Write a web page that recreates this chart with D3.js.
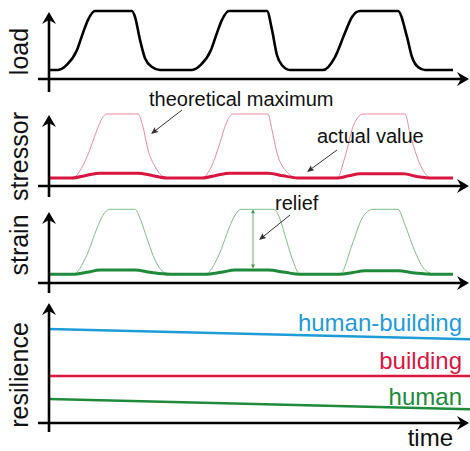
<!DOCTYPE html>
<html><head><meta charset="utf-8">
<script src="https://cdn.jsdelivr.net/npm/d3@7"></script>
<style>html,body{margin:0;padding:0;background:#fff;}svg{display:block;font-family:"Liberation Sans",Arial,sans-serif;}</style>
</head><body>
<svg id="c" width="470" height="451"></svg>
<script>
// ---- data (time units; values normalised) ----
const loadTime  = [0,9,18,28,34,39,46,83,86,91,96,103,111,143,152,162,168,173,180,218,223,228,233,241,274,286,296,303,311,349,358,363,369,376,404];
const loadValue = [0,0,.09,.34,.63,.85,1,1,.9,.51,.2,.05,0,0,.09,.34,.63,.85,1,1,.68,.25,.08,0,0,.22,.63,.9,1,1,.56,.22,.05,0,0];

const stressorMaxTime  = [0,23,38,48,53,58,89,94,99,106,118,153,163,171,177,184,219,223,228,236,249,288,296,304,314,356,361,368,383,404];
const stressorMaxValue = [0,0,.33,.75,.93,1,1,.8,.44,.18,0,0,.2,.55,.85,1,1,.75,.39,.13,0,0,.33,.8,1,1,.7,.33,0,0];
const stressorActTime  = [0,23,37,51,89,103,118,153,167,181,219,234,249,288,300,311,354,369,383,404];
const stressorActValue = [0,0,.04,.075,.075,.04,0,0,.04,.075,.075,.035,0,0,.035,.065,.065,.02,0,0];

const strainMaxTime  = [0,24,38,48,54,61,86,91,98,106,114,121,156,170,180,186,192,225,231,236,243,251,291,303,313,324,349,356,366,376,386,404];
const strainMaxValue = [0,0,.3,.71,.91,1,1,.86,.55,.22,.04,0,0,.3,.71,.91,1,1,.85,.6,.25,0,0,.45,.86,1,1,.76,.35,.07,0,0];
const strainActTime  = [0,24,38,51,86,101,121,156,172,186,219,236,251,291,303,316,349,366,386,404];
const strainActValue = [0,0,.03,.065,.065,.03,0,0,.03,.065,.065,.03,0,0,.025,.055,.055,.02,0,0];
const reliefTime = 204, reliefLow = 0.09, reliefHigh = 1;

const resTime = [0,421];
const resHumanBuilding = [7.83,6.98];
const resBuilding = [3.92,3.92];
const resHuman = [2.0,1.14];

const panelLabels = ["load","stressor","strain","resilience"];
const seriesLabels = ["human-building","building","human"];

// ---- layout ----
const svg = d3.select("#c");
const x = d3.scaleLinear().domain([0,420]).range([49,469]);
const panels = [
  {name:"load", axisY:79, tip:12, bottom:92, labelY:51.5},
  {name:"stressor", axisY:186, tip:115, bottom:197, labelY:156.5},
  {name:"strain", axisY:283, tip:212, bottom:293, labelY:245},
  {name:"resilience", axisY:423, tip:303, bottom:432, labelY:375}
];
const yLoad = d3.scaleLinear().domain([0,1]).range([70,11]);
const yStress = d3.scaleLinear().domain([0,1]).range([178,114]);
const yStrain = d3.scaleLinear().domain([0,1]).range([274.3,209.3]);
const yRes = d3.scaleLinear().domain([0,10]).range([423,303]);

function zip(t,v){return t.map((d,i)=>[d,v[i]]);}
function drawLine(data,y,color,w,curve){
  svg.append("path").datum(data)
    .attr("d", d3.line().x(d=>x(d[0])).y(d=>y(d[1])).curve(curve||d3.curveMonotoneX))
    .attr("fill","none").attr("stroke",color).attr("stroke-width",w)
    .attr("stroke-linejoin","round").attr("stroke-linecap","butt");
}
function arrowHead(tx,ty,angle,len,half,notch,color){
  const a = angle*Math.PI/180, c=Math.cos(a), s=Math.sin(a);
  const p = (dx,dy)=>[tx + dx*c - dy*s, ty + dx*s + dy*c];
  const pts = [p(0,0), p(-len,-half), p(-len+notch,0), p(-len,half)];
  svg.append("path").attr("d","M"+pts.map(q=>q.join(",")).join("L")+"Z").attr("fill",color);
}
function annArrow(x1,y1,x2,y2,color){
  const ang = Math.atan2(y2-y1,x2-x1);
  svg.append("line").attr("x1",x1).attr("y1",y1)
    .attr("x2",x2-Math.cos(ang)*4).attr("y2",y2-Math.sin(ang)*4)
    .attr("stroke",color).attr("stroke-width",1);
  arrowHead(x2,y2,ang*180/Math.PI,7,3,1,color);
}

// ---- series ----
drawLine(zip(loadTime,loadValue), yLoad, "#000", 2.6);
drawLine(zip(stressorMaxTime,stressorMaxValue), yStress, "#ea8aa0", 1);
drawLine(zip(stressorActTime,stressorActValue), yStress, "#d8163f", 3);
drawLine(zip(strainMaxTime,strainMaxValue), yStrain, "#7cbf86", 1);
drawLine(zip(strainActTime,strainActValue), yStrain, "#1e8a3a", 3);
drawLine(zip(resTime,resHumanBuilding), yRes, "#1f9bd8", 2.6, d3.curveLinear);
drawLine(zip(resTime,resBuilding), yRes, "#d8163f", 2.6, d3.curveLinear);
drawLine(zip(resTime,resHuman), yRes, "#1e8a3a", 2.6, d3.curveLinear);

// relief double arrow
{
  const rx = x(reliefTime), y1 = yStrain(reliefHigh), y2 = yStrain(reliefLow);
  svg.append("line").attr("x1",rx).attr("x2",rx).attr("y1",y1+2).attr("y2",y2-2)
    .attr("stroke","#6fb87a").attr("stroke-width",1);
  arrowHead(rx,y1,-90,4,2,0,"#3f9a4e");
  arrowHead(rx,y2,90,4,2,0,"#3f9a4e");
}

// ---- axes ----
panels.forEach(p=>{
  svg.append("line").attr("x1",x(-11)).attr("x2",x(412)).attr("y1",p.axisY).attr("y2",p.axisY)
    .attr("stroke","#000").attr("stroke-width",2.6);
  arrowHead(x(420),p.axisY,0,12,7,4,"#000");
  svg.append("line").attr("x1",x(0)).attr("x2",x(0)).attr("y1",p.bottom).attr("y2",p.tip+8)
    .attr("stroke","#000").attr("stroke-width",2.6);
  arrowHead(x(0),p.tip,-90,12,7,4,"#000");
  svg.append("text").attr("transform",`translate(27.5,${p.labelY}) rotate(-90)`)
    .attr("text-anchor","middle").attr("font-size",25).attr("fill","#111").text(p.name);
});

// ---- annotation texts ----
svg.append("text").attr("x",149).attr("y",106).attr("font-size",20).attr("fill","#111").text("theoretical maximum");
annArrow(182,110,151,134,"#333");
svg.append("text").attr("x",317).attr("y",143).attr("font-size",20).attr("fill","#111").text("actual value");
annArrow(337,150,307,172,"#333");
svg.append("text").attr("x",275).attr("y",210).attr("font-size",20).attr("fill","#111").text("relief");
annArrow(290,215,259,240,"#333");

const labelColors = ["#1f9bd8","#d8163f","#1e8a3a"];
const labelY = [330.5,369,405];
seriesLabels.forEach((s,i)=>{
  svg.append("text").attr("x",462).attr("y",labelY[i]).attr("text-anchor","end")
    .attr("font-size",24).attr("fill",labelColors[i]).text(s);
});
svg.append("text").attr("x",453).attr("y",446).attr("text-anchor","end").attr("font-size",24).attr("fill","#111").text("time");
</script>
</body></html>
